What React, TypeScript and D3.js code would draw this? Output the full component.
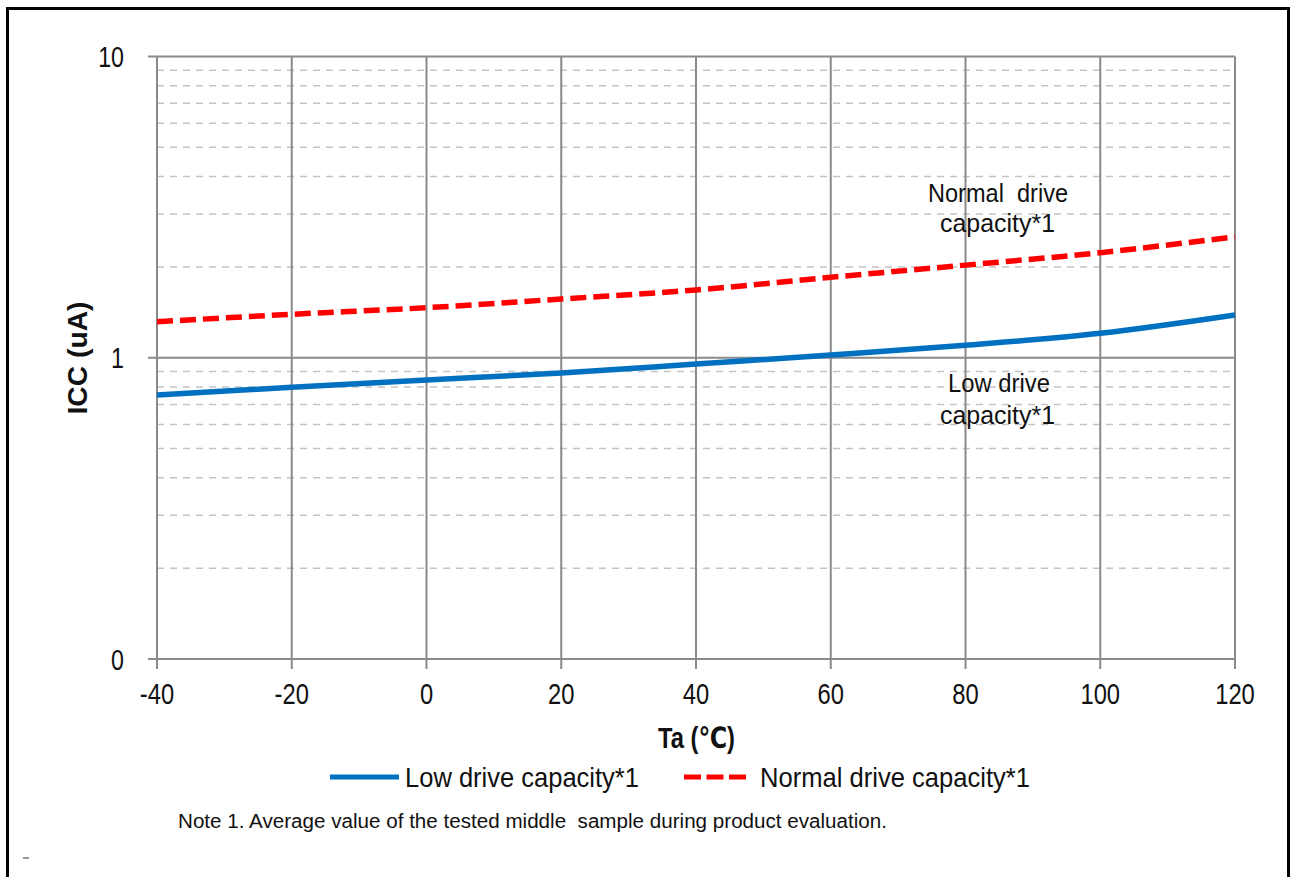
import React from "react";
import * as d3 from "d3";

const temps = [-40, -20, 0, 20, 40, 60, 80, 100, 120];
const lowDrive = [0.752, 0.798, 0.844, 0.89, 0.953, 1.021, 1.1, 1.206, 1.387];
const normalDrive = [1.317, 1.394, 1.466, 1.567, 1.679, 1.85, 2.03, 2.233, 2.52];
const xTicks = [-40, -20, 0, 20, 40, 60, 80, 100, 120];
const yMajor = [0.1, 1, 10];
const yMajorLabels = ["0", "1", "10"];
const yMinor = [2, 3, 4, 5, 6, 7, 8, 9].flatMap((m) => [m * 0.1, m]);
const seriesNames = ["Low drive capacity*1", "Normal drive capacity*1"];
const xTitle = "Ta (\u2103)";
const yTitle = "ICC (uA)";
const noteText = "Note 1. Average value of the tested middle\u00a0 sample during product evaluation.";

const FONT = "'Liberation Sans', Arial, 'DejaVu Sans', sans-serif";

export default function App() {
  const left = 157, right = 1235, top = 56.5, bottom = 659;
  const x = d3.scaleLinear().domain([-40, 120]).range([left, right]);
  const y = d3.scaleLog().domain([0.1, 10]).range([bottom, top]);
  const line = d3
    .line<number>()
    .x((_, i) => x(temps[i]))
    .y((d) => y(d))
    .curve(d3.curveMonotoneX);

  const majorColor = "#8a8a8a";
  const minorColor = "#c4c4c4";
  const textColor = "#111";

  return (
    <svg
      width={1290}
      height={877}
      style={{ position: "absolute", left: 0, top: 0, background: "#fff" }}
      fontFamily={FONT}
    >
      <rect x={0} y={0} width={1290} height={877} fill="#fff" />
      <rect x={7.5} y={8.5} width={1281} height={900} fill="none" stroke="#000" strokeWidth={3} />

      {/* minor dashed gridlines */}
      {yMinor.map((v, i) => (
        <line
          key={"mn" + i}
          x1={left}
          x2={right}
          y1={y(v)}
          y2={y(v)}
          stroke={minorColor}
          strokeWidth={1.5}
          strokeDasharray="7,6"
        />
      ))}
      {/* vertical gridlines + ticks */}
      {xTicks.map((t) => (
        <line key={"vx" + t} x1={x(t)} x2={x(t)} y1={top} y2={bottom + 10} stroke={majorColor} strokeWidth={2} />
      ))}
      {/* horizontal major gridlines */}
      {yMajor.map((v) => (
        <line key={"hy" + v} x1={left - 9} x2={right} y1={y(v)} y2={y(v)} stroke={majorColor} strokeWidth={2} />
      ))}

      {/* y tick labels */}
      {yMajor.map((v, i) => (
        <text
          key={"yl" + v}
          transform={`translate(124,${y(v) + 10.5}) scale(0.8,1)`}
          textAnchor="end"
          fontSize={29}
          fill={textColor}
        >
          {yMajorLabels[i]}
        </text>
      ))}
      {/* x tick labels */}
      {xTicks.map((t) => (
        <text
          key={"xl" + t}
          transform={`translate(${x(t)},704) scale(0.82,1)`}
          textAnchor="middle"
          fontSize={29}
          fill={textColor}
        >
          {t}
        </text>
      ))}

      {/* series */}
      <path d={line(lowDrive) || ""} fill="none" stroke="#0070C0" strokeWidth={5.5} />
      <path d={line(normalDrive) || ""} fill="none" stroke="#FF0000" strokeWidth={5.5} strokeDasharray="16,7" />

      {/* annotations */}
      <text x={928} y={202} fontSize={26} textLength={140} lengthAdjust="spacingAndGlyphs" fill={textColor}>
        {"Normal\u00a0 drive"}
      </text>
      <text x={940} y={232} fontSize={26} textLength={115} lengthAdjust="spacingAndGlyphs" fill={textColor}>
        capacity*1
      </text>
      <text x={948} y={392} fontSize={26} textLength={102} lengthAdjust="spacingAndGlyphs" fill={textColor}>
        Low drive
      </text>
      <text x={940} y={424} fontSize={26} textLength={115} lengthAdjust="spacingAndGlyphs" fill={textColor}>
        capacity*1
      </text>

      {/* axis titles */}
      <text
        transform="translate(87,358) rotate(-90)"
        textAnchor="middle"
        fontSize={28}
        fontWeight="bold"
        textLength={113}
        lengthAdjust="spacingAndGlyphs"
        fill={textColor}
      >
        {yTitle}
      </text>
      <text
        x={658}
        y={748}
        fontSize={29}
        fontWeight="bold"
        textLength={77}
        lengthAdjust="spacingAndGlyphs"
        fill={textColor}
      >
        {xTitle}
      </text>

      {/* legend */}
      <line x1={330} x2={399} y1={777} y2={777} stroke="#0070C0" strokeWidth={5} />
      <text x={405} y={787} fontSize={28} textLength={234} lengthAdjust="spacingAndGlyphs" fill={textColor}>
        {seriesNames[0]}
      </text>
      <line x1={684} x2={746} y1={777} y2={777} stroke="#FF0000" strokeWidth={5} strokeDasharray="17,5.5" />
      <text x={760} y={787} fontSize={28} textLength={270} lengthAdjust="spacingAndGlyphs" fill={textColor}>
        {seriesNames[1]}
      </text>

      {/* note */}
      <text x={178} y={828} fontSize={20} textLength={709} lengthAdjust="spacingAndGlyphs" fill={textColor}>
        {noteText}
      </text>
      <line x1={23} x2={29} y1={858} y2={858} stroke="#777" strokeWidth={1.5} />
    </svg>
  );
}
